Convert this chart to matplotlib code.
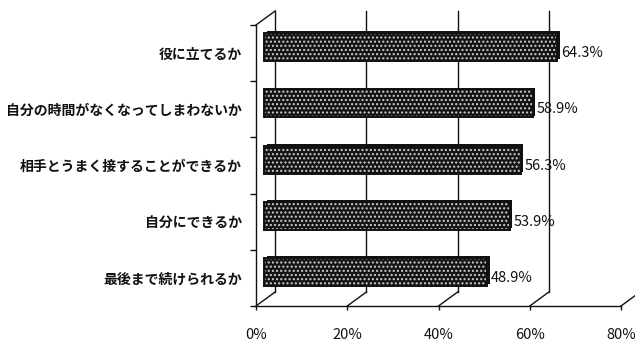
import matplotlib.pyplot as plt
from matplotlib.ticker import FixedLocator

plt.rcParams['font.family'] = ['Noto Sans CJK JP', 'DejaVu Sans']
plt.rcParams['hatch.linewidth'] = 1.0

categories = ['最後まで続けられるか', '自分にできるか', '相手とうまく接することができるか',
              '自分の時間がなくなってしまわないか', '役に立てるか']
values = [48.9, 53.9, 56.3, 58.9, 64.3]
xticks = [0, 20, 40, 60, 80]
xticklabels = ['0%', '20%', '40%', '60%', '80%']

# depth of the pseudo-3D box, in data units
dx, dy = 4.2, 0.25
ink = '#111111'

fig = plt.figure(figsize=(6.35, 3.44), dpi=100)
ax = fig.add_axes([256 / 635, 38 / 344, 365 / 635, 281 / 344])
ax.set_xlim(0, 80)
ax.set_ylim(-0.5, 4.5)
ypos = list(range(len(categories)))

# back wall gridlines and floor diagonals
for x in xticks:
    ax.plot([x + dx, x + dx], [-0.5 + dy, 4.5 + dy], color=ink, lw=1.0, clip_on=False)
    ax.plot([x, x + dx], [-0.5, -0.5 + dy], color=ink, lw=1.0, clip_on=False)
ax.plot([0, dx], [4.5, 4.5 + dy], color=ink, lw=1.0, clip_on=False)

# bars: dark back face, then speckled front face
yb = [y + dy * 0.55 for y in ypos]
yf = [y + dy * 0.42 for y in ypos]
ax.barh(yb, values, left=dx * 0.55, height=0.5, color=ink, clip_on=False, zorder=3)
ax.barh(yf, values, left=dx * 0.42, height=0.5, color='#141414', clip_on=False, zorder=4)
ax.barh(yf, values, left=dx * 0.42, height=0.5, facecolor='none', edgecolor='#cfcfcf',
        hatch='....', lw=0, clip_on=False, zorder=5)
ax.barh(yf, values, left=dx * 0.42, height=0.5, facecolor='none', edgecolor=ink,
        lw=1.4, clip_on=False, zorder=6)

for y, v in zip(ypos, values):
    ax.text(v + dx * 0.55 + 0.2, y, f'{v}%', ha='left', va='center', fontsize=10.5,
            color=ink, zorder=7)

for side in ['top', 'right']:
    ax.spines[side].set_visible(False)
for side in ['left', 'bottom']:
    ax.spines[side].set_color(ink)
    ax.spines[side].set_linewidth(1.0)

ax.set_yticks(ypos, categories, fontsize=10, fontweight='bold')
ax.yaxis.set_minor_locator(FixedLocator([-0.5, 0.5, 1.5, 2.5, 3.5, 4.5]))
ax.tick_params(axis='y', which='major', length=0, pad=10, colors=ink)
ax.tick_params(axis='y', which='minor', length=4, width=1.0, color=ink)
ax.set_xticks(xticks, xticklabels, fontsize=10.5)
ax.tick_params(axis='x', length=3, width=1.0, pad=13, colors=ink)
ax.set_facecolor('none')

fig.savefig('out.png', dpi=100, facecolor='white')
